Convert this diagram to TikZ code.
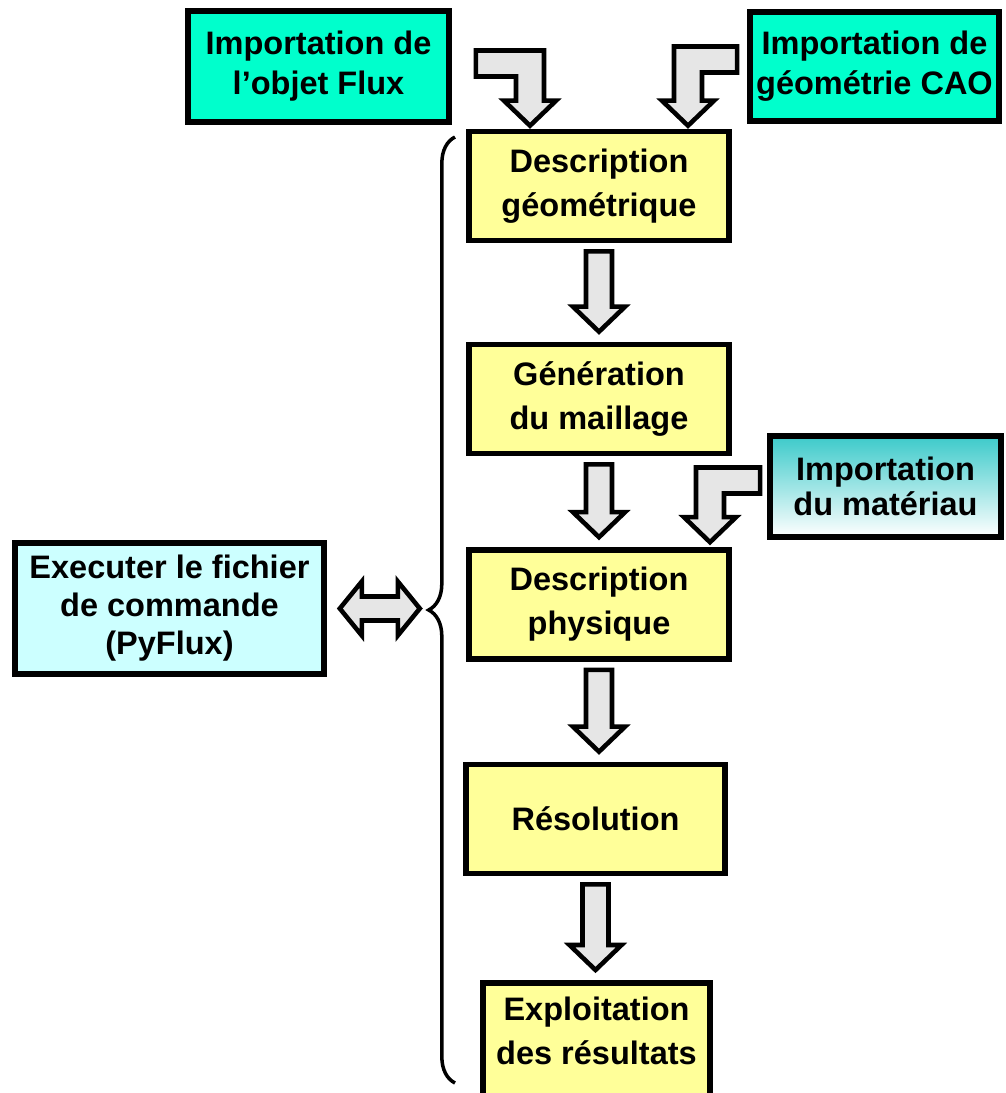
\documentclass[tikz,border=0pt]{standalone}
\usepackage{fontspec}
\setmainfont{Liberation Sans}
\usepackage{tikz}
\usetikzlibrary{calc}
\usetikzlibrary{decorations.pathreplacing}
\definecolor{importcol}{HTML}{00FFCC}
\definecolor{stagecol}{HTML}{FFFF99}
\definecolor{scriptcol}{HTML}{CCFFFF}
\definecolor{matcol}{HTML}{3CCACA}
\definecolor{arrowcol}{HTML}{E6E6E6}
\def\px{0.02cm}
% straight block arrow from one stage down to the next
\newcommand{\blockdown}[2]{%
	\draw[block arrow] ($(#1.south)+(-13,8)$) -- ($(#1.south |- #2.north)+(-13,-35)$)
	-- ($(#1.south |- #2.north)+(-26,-35)$) -- ($(#1.south |- #2.north)+(0,-10)$)
	-- ($(#1.south |- #2.north)+(26,-35)$) -- ($(#1.south |- #2.north)+(13,-35)$)
	-- ($(#1.south)+(13,8)$) -- cycle;}
% bent block arrow: #1 start, #2 tip, #3 side (1 right, -1 left)
\newcommand{\bentdown}[3]{%
	\draw[block arrow] ($(#1)+(0,-13)$) -- ($(#2 |- #1)+({14*(#3)},-13)$)
	-- ($(#2)+({14*(#3)},-25)$) -- ($(#2)+({26*(#3)},-25)$) -- (#2)
	-- ($(#2)+({-26*(#3)},-25)$) -- ($(#2)+({-14*(#3)},-25)$)
	-- ($(#2 |- #1)+({-14*(#3)},13)$) -- ($(#1)+(0,13)$) -- cycle;}

\begin{document}
\begin{tikzpicture}[x=\px, y=-\px]
	\tikzstyle{box}=[draw=black, line width=3.2pt, inner sep=0pt, align=center, font=\bfseries\fontsize{18.5}{25}\selectfont]
	\tikzstyle{import box}=[box, fill=importcol, font=\bfseries\fontsize{18.5}{22.8}\selectfont]
	\tikzstyle{stage}=[box, fill=stagecol, minimum width=260*\px, minimum height=109*\px]
	\tikzstyle{script box}=[box, fill=scriptcol, font=\bfseries\fontsize{18.5}{21.6}\selectfont]
	\tikzstyle{mat box}=[box, top color=matcol, bottom color=white, font=\bfseries\fontsize{18.5}{20}\selectfont]
	\tikzstyle{block arrow}=[draw=black, fill=arrowcol, line width=2.6pt, line join=miter]
	
	\useasboundingbox (0,0) rectangle (1006,1093);
	
	% Draw the imported data
	\node[import box, minimum width=261*\px, minimum height=111*\px] (flux) at (318.5,66.5) {Importation de\\l’objet Flux};
	\node[import box, minimum width=249*\px, minimum height=109*\px] (cao) at (874.5,66.5) {Importation de\\géométrie CAO};
	\node[mat box, minimum width=231*\px, minimum height=101*\px] (mat) at (885.5,486.5) {Importation\\du matériau};
	
	% Draw the stages
	\node[stage] (geo) at (599,186) {Description\\géométrique};
	\node[stage] (mesh) at (599,399) {Génération\\du maillage};
	\node[stage] (phys) at (599,604.5) {Description\\physique};
	\node[stage, minimum width=259*\px] (reso) at (595.5,819) {Résolution};
	\node[stage, anchor=north, minimum width=227*\px, minimum height=0pt, inner ysep=8pt, text depth=60pt] (expl) at (596.5,980) {Exploitation\\des résultats};
	
	% Draw the command file
	\node[script box, minimum width=309*\px, minimum height=131*\px] (exec) at (169.5,608.5) {Executer le fichier\\de commande\\(PyFlux)};
	
	% Connect the stages
	\foreach \source/\dest in {geo/mesh, mesh/phys, phys/reso, reso/expl}
	\blockdown{\source}{\dest};
	
	% Connect the imports
	\coordinate (s1) at ($(flux.east)+(24,-3)$);
	\coordinate (t1) at ($(geo.north)+(-69,-3)$);
	\bentdown{s1}{t1}{1}
	\coordinate (s2) at ($(cao.west)+(-10,-7)$);
	\coordinate (t2) at ($(geo.north)+(89,-3)$);
	\bentdown{s2}{t2}{-1}
	\coordinate (s3) at ($(mat.west)+(-7,-6)$);
	\coordinate (t3) at ($(phys.north)+(111,-5)$);
	\bentdown{s3}{t3}{-1}
	
	% Brace over the whole chain
	\coordinate (bt) at (455,137);
	\coordinate (bb) at (455,1083);
	\draw[line width=2pt, decorate, decoration={brace, amplitude=15pt}] (bb) -- (bt);
	
	% Double arrow to the brace
	\coordinate (dl) at ($(exec.east)+(13,0)$);
	\coordinate (dr) at ($(dl)+(80,0)$);
	\draw[block arrow] (dl) -- ($(dl)+(22,-27)$) -- ($(dl)+(22,-12)$) -- ($(dr)+(-22,-12)$)
	-- ($(dr)+(-22,-27)$) -- (dr) -- ($(dr)+(-22,27)$) -- ($(dr)+(-22,12)$)
	-- ($(dl)+(22,12)$) -- ($(dl)+(22,27)$) -- cycle;
	
\end{tikzpicture}
\end{document}
